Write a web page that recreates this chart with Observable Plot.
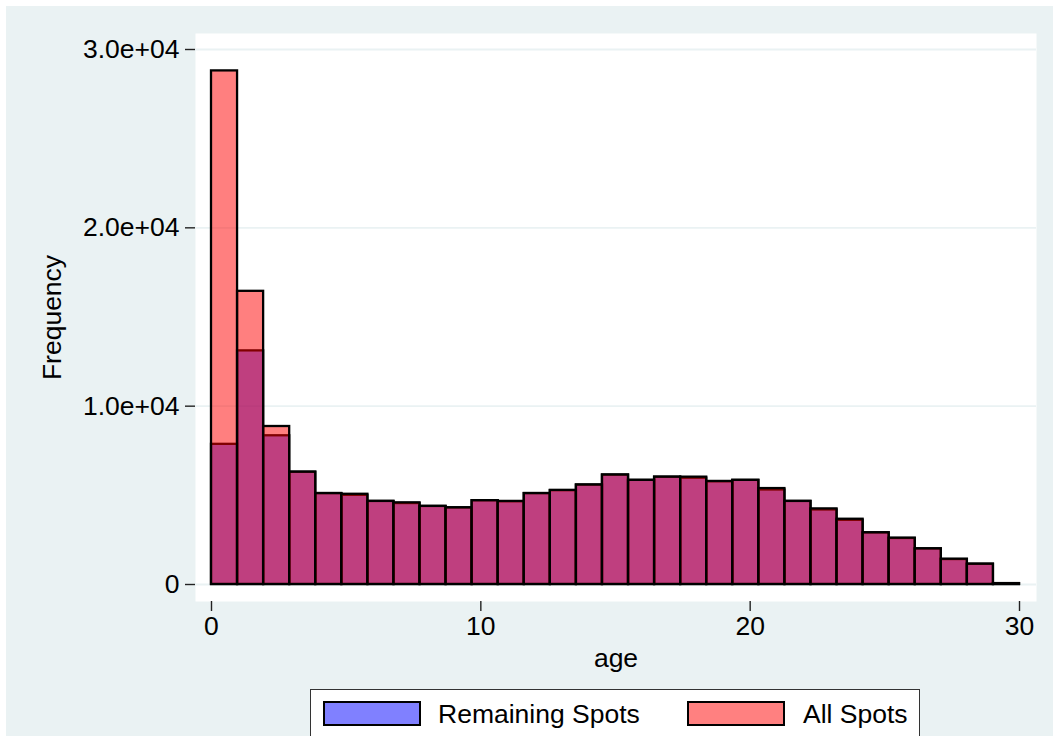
<!DOCTYPE html>
<html>
<head>
<meta charset="utf-8">
<script src="https://cdn.jsdelivr.net/npm/d3@7"></script>
<script src="https://cdn.jsdelivr.net/npm/@observablehq/plot@0.6"></script>
<style>
  html, body { margin: 0; padding: 0; background: #ffffff; width: 1053px; height: 736px; overflow: hidden; }
  #graph { position: absolute; left: 6px; top: 6px; width: 1047px; height: 730px; background: #EAF2F3; overflow: hidden;
           font-family: "Liberation Sans", Arial, sans-serif; }
  #chart { position: absolute; left: 0; top: 0; }
  #legend { position: absolute; left: 304px; top: 683px; width: 610px; height: 70px; background: #ffffff;
            border: 1.5px solid #333; box-sizing: border-box; }
  .sw { position: absolute; top: 11px; width: 98px; height: 25px; border: 2px solid #000; box-sizing: border-box; }
  .lt { position: absolute; top: 24px; transform: translateY(-50%); font-size: 26.5px; color: #000; white-space: nowrap; line-height: 1; }
</style>
</head>
<body>
<div id="graph">
  <div id="chart"></div>
  <div id="legend"></div>
</div>
<script>
// ---- data ----
const binCount = 31;            // bins spanning age 0..30
const ageMin = 0, ageMax = 30;
const remainingSpots = [7860, 13100, 8340, 6300, 5100, 5000, 4660, 4540, 4380, 4300,
                        4700, 4640, 5100, 5260, 5580, 6140, 5840, 6020, 5960, 5760,
                        5840, 5300, 4660, 4180, 3600, 2900, 2580, 2000, 1400, 1140, 50];
const allSpots       = [28800, 16440, 8860, 6300, 5100, 5060, 4660, 4580, 4380, 4300,
                        4700, 4660, 5100, 5280, 5580, 6140, 5840, 6020, 6020, 5780,
                        5840, 5380, 4660, 4240, 3660, 2900, 2600, 2000, 1420, 1140, 50];
const xTicks = [0, 10, 20, 30];
const yTicks = [0, 10000, 20000, 30000];
const yTickLabels = ["0", "1.0e+04", "2.0e+04", "3.0e+04"];
const seriesNames = ["Remaining Spots", "All Spots"];
const seriesColors = ["#8080FF", "#FF8080"];

// ---- table for the library ----
const binWidth = (ageMax - ageMin) / binCount;
const rows = remainingSpots.map((v, i) => ({
  x1: ageMin + i * binWidth,
  x2: ageMin + (i + 1) * binWidth,
  rem: v,
  all: allSpots[i]
}));

const W = 1047, H = 674;
const FS = 26.5;
const chart = Plot.plot({
  width: W,
  height: H,
  marginLeft: 189,
  marginRight: 17,
  marginTop: 27,
  marginBottom: 79,
  style: { background: "transparent", fontFamily: "Liberation Sans, Arial, sans-serif", fontSize: FS + "px", color: "#000", overflow: "visible" },
  x: { domain: [-0.594, 30.631] },
  y: { domain: [-953, 30897] },
  marks: [
    Plot.frame({ fill: "#ffffff", stroke: "none" }),
    Plot.ruleY(yTicks, { stroke: "#EAF2F3", strokeWidth: 1.8 }),
    Plot.rect(rows, { x1: "x1", x2: "x2", y1: 0, y2: "rem", fill: "#0000FF", fillOpacity: 0.5, stroke: "#000", strokeWidth: 2.3 }),
    Plot.rect(rows, { x1: "x1", x2: "x2", y1: 0, y2: "all", fill: "#FF0000", fillOpacity: 0.5, stroke: "#000", strokeWidth: 2.3 }),
    Plot.axisY({ ticks: yTicks, tickFormat: (d) => yTickLabels[yTicks.indexOf(d)], tickSize: 10, tickPadding: 6,
                 fontSize: FS, line: true, label: null, stroke: "#222", strokeWidth: 1.4 }),
    Plot.axisX({ ticks: xTicks, tickFormat: d => String(d), tickSize: 10, tickPadding: 5,
                 fontSize: FS, line: true, label: null, stroke: "#222", strokeWidth: 1.4 }),
    Plot.text(["Frequency"], { frameAnchor: "left", rotate: -90, dx: -143, fontSize: FS, fill: "#000",
                               textAnchor: "middle", lineAnchor: "middle" }),
    Plot.text(["age"], { frameAnchor: "bottom", dy: 57, fontSize: FS, fill: "#000", textAnchor: "middle", lineAnchor: "middle" })
  ]
});
document.getElementById("chart").appendChild(chart);

// ---- legend (HTML, below the SVG) ----
const legend = document.getElementById("legend");
const swLeft = [12, 376];
const txtLeft = [127, 492];
seriesNames.forEach((name, i) => {
  const sw = document.createElement("div");
  sw.className = "sw";
  sw.style.left = swLeft[i] + "px";
  sw.style.background = seriesColors[i];
  legend.appendChild(sw);
  const t = document.createElement("div");
  t.className = "lt";
  t.style.left = txtLeft[i] + "px";
  t.textContent = name;
  legend.appendChild(t);
});
</script>
</body>
</html>
